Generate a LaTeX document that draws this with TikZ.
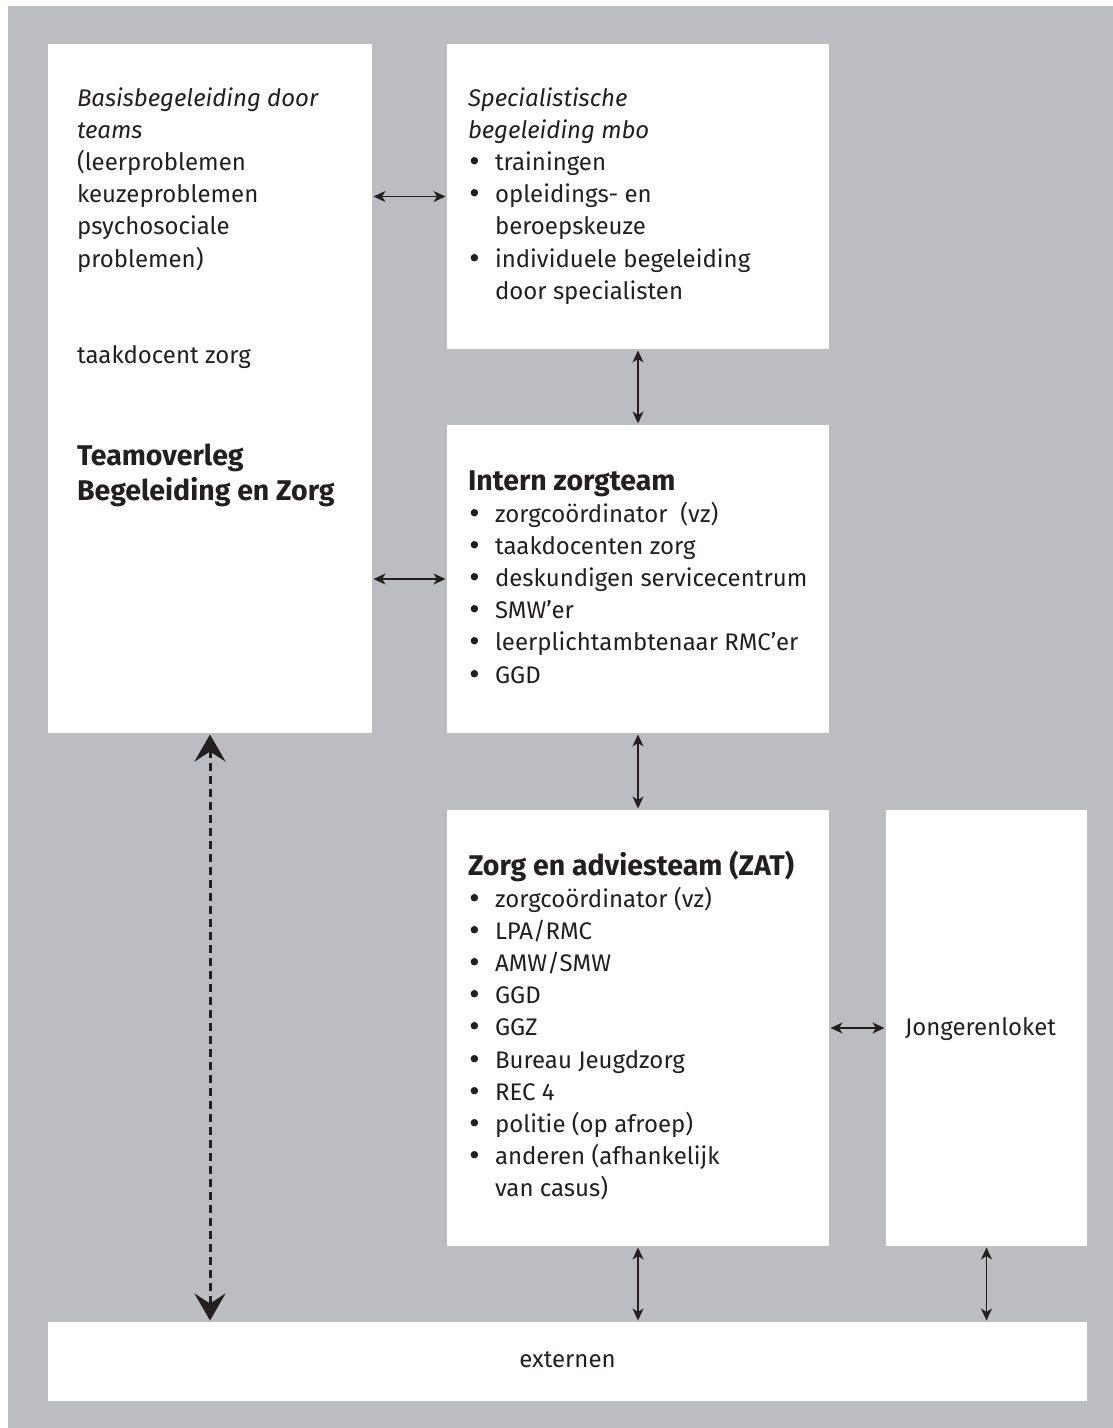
\documentclass[tikz,border=0pt]{standalone}
\usepackage{fontspec}
\setmainfont{Fira Sans}
\newfontfamily\bulletfont{DejaVu Sans}
\usetikzlibrary{arrows.meta}
\definecolor{bggray}{RGB}{188,189,192}
\definecolor{ink}{RGB}{35,31,32}
\newcommand{\bodyfont}{\fontsize{24}{32.2}\selectfont}
\newcommand{\headfont}{\fontsize{28.5}{35}\selectfont\bfseries}
\newcommand{\itm}[1]{\makebox[27pt][l]{\hspace*{-1pt}{\bulletfont\fontsize{25}{32.2}\selectfont •}}#1}
\newcommand{\cont}[1]{\hspace*{27pt}#1}
\tikzset{
  box/.style={fill=white, draw=none, inner sep=0pt, outer sep=0pt, anchor=north west},
  txt/.style={anchor=base west, inner sep=0pt, outer sep=0pt, text=ink},
  biarrow/.style={{Stealth[length=12pt,width=11pt,inset=3.5pt]}-{Stealth[length=12pt,width=11pt,inset=3.5pt]},
    line width=1.5pt, draw=ink, shorten <=1.5pt, shorten >=1.5pt},
  dasharrow/.style={{Stealth[length=27pt,width=31pt,inset=10pt]}-{Stealth[length=27pt,width=31pt,inset=10pt]},
    line width=3pt, dash pattern=on 8pt off 5pt, draw=ink, shorten <=1.5pt, shorten >=1.5pt}
}
\begin{document}
\begin{tikzpicture}[x=1pt,y=-1pt]
\useasboundingbox (0,0) rectangle (1113,1428);
\fill[white] (0,0) rectangle (1113,1428);
\fill[bggray] (8,6) rectangle (1113,1428);

% boxes
\node[box, minimum width=324pt, minimum height=689pt] (left) at (48,44) {};
\node[box, minimum width=382pt, minimum height=305pt] (top) at (447,44) {};
\node[box, minimum width=382pt, minimum height=308pt] (intern) at (447,425) {};
\node[box, minimum width=382pt, minimum height=436pt] (zat) at (447,810) {};
\node[box, minimum width=201pt, minimum height=436pt] (jong) at (886,810) {};
\node[box, minimum width=1039pt, minimum height=79pt] (ext) at (48,1322) {};

% left box text
\node[txt] (lefttext) at (77,106) {\parbox[t]{290pt}{\bodyfont\raggedright
  \textit{Basisbegeleiding door}\\
  \textit{teams}\\
  (leerproblemen\\
  keuzeproblemen\\
  psychosociale\\
  problemen)\par}};
\node[txt] (taak) at (77,363) {\bodyfont taakdocent zorg};
\node[txt] (team) at (77,465) {\parbox[t]{290pt}{\headfont\raggedright
  Teamoverleg\\
  Begeleiding en Zorg\par}};

% top box text
\node[txt] (toptext) at (468,106) {\parbox[t]{355pt}{\bodyfont\raggedright
  \textit{Specialistische}\\
  \textit{begeleiding mbo}\\
  \itm{trainingen}\\
  \itm{opleidings- en}\\
  \cont{beroepskeuze}\\
  \itm{individuele begeleiding}\\
  \cont{door specialisten}\par}};

% intern zorgteam
\node[txt] (interntitle) at (468,490) {\headfont Intern zorgteam};
\node[txt] (interntext) at (468,522) {\parbox[t]{355pt}{\bodyfont\raggedright
  \itm{zorgcoördinator\ \ (vz)}\\
  \itm{taakdocenten zorg}\\
  \itm{deskundigen servicecentrum}\\
  \itm{SMW’er}\\
  \itm{leerplichtambtenaar RMC’er}\\
  \itm{GGD}\par}};

% ZAT
\node[txt] (zattitle) at (468,875) {\headfont Zorg en adviesteam (ZAT)};
\node[txt] (zattext) at (468,907) {\parbox[t]{355pt}{\bodyfont\raggedright
  \itm{zorgcoördinator (vz)}\\
  \itm{LPA/RMC}\\
  \itm{AMW/SMW}\\
  \itm{GGD}\\
  \itm{GGZ}\\
  \itm{Bureau Jeugdzorg}\\
  \itm{REC 4}\\
  \itm{politie (op afroep)}\\
  \itm{anderen (afhankelijk}\\
  \cont{van casus)}\par}};

\node[txt] (jongtext) at (905,1035) {\bodyfont Jongerenloket};
\node[anchor=base, inner sep=0pt, text=ink] (exttext) at (567.5,1367) {\bodyfont externen};

% connectors
\draw[biarrow] (left.east |- top.west) -- (top.west);
\draw[biarrow] (top.south) -- (intern.north);
\draw[biarrow] (left.east |- intern.west) -- (intern.west);
\draw[biarrow] (intern.south) -- (zat.north);
\draw[biarrow] (zat.east) -- (jong.west);
\draw[dasharrow] (left.south) -- (left.south |- ext.north);
\draw[biarrow] (zat.south) -- (zat.south |- ext.north);
\draw[biarrow] (jong.south) -- (jong.south |- ext.north);
\end{tikzpicture}
\end{document}
